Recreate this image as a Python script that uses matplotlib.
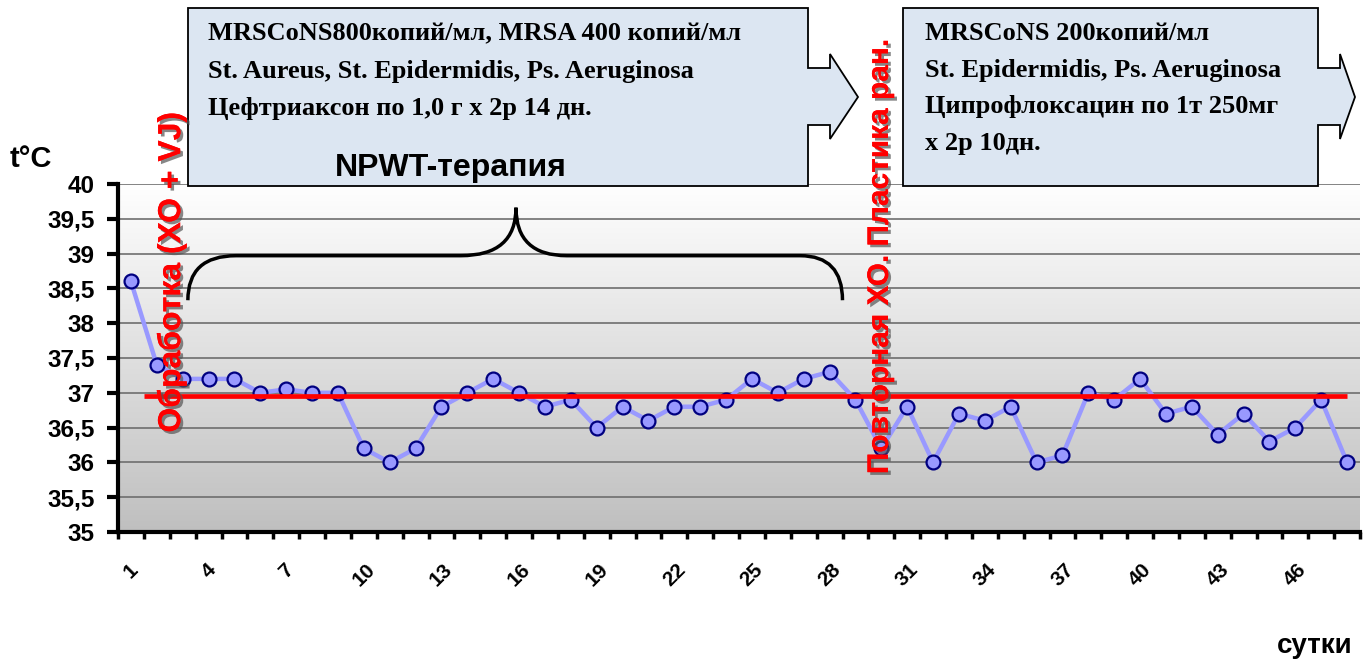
import numpy as np
import matplotlib
matplotlib.use("Agg")
import matplotlib.pyplot as plt
from matplotlib.patches import Polygon, PathPatch
from matplotlib.path import Path
import matplotlib.patheffects as pe

# data
days = list(range(1, 49))
temps = [38.6, 37.4, 37.2, 37.2, 37.2, 37.0, 37.05, 37.0, 37.0, 36.2,
         36.0, 36.2, 36.8, 37.0, 37.2, 37.0, 36.8, 36.9, 36.5, 36.8,
         36.6, 36.8, 36.8, 36.9, 37.2, 37.0, 37.2, 37.3, 36.9, 36.2,
         36.8, 36.0, 36.7, 36.6, 36.8, 36.0, 36.1, 37.0, 36.9, 37.2,
         36.7, 36.8, 36.4, 36.7, 36.3, 36.5, 36.9, 36.0]
norm_temp = 36.95
x_labels = list(range(1, 49, 3))
y_ticks = np.arange(35, 40.01, 0.5)

box1_lines = ["MRSCoNS800копий/мл, MRSA 400 копий/мл",
              "St. Aureus, St. Epidermidis, Ps. Aeruginosa",
              "Цефтриаксон по 1,0 г х 2р 14 дн."]
box2_lines = ["MRSCoNS 200копий/мл",
              "St. Epidermidis, Ps. Aeruginosa",
              "Ципрофлоксацин по 1т 250мг",
              "х 2р 10дн."]

W, H = 1371, 664
fig = plt.figure(figsize=(W / 100, H / 100), dpi=100)
plt.rcParams['font.family'] = ['Liberation Sans', 'DejaVu Sans']


def px(x, y):
    return (x / W, 1 - y / H)


ax = fig.add_axes([118 / W, (H - 532) / H, 1242 / W, 348 / H])
ax.set_xlim(0.5, 48.5)
ax.set_ylim(35, 40)

# background gradient
grad = np.linspace(0, 1, 256).reshape(-1, 1)
ax.imshow(grad, extent=(0.5, 48.5, 35, 40), aspect='auto', origin='upper',
          cmap=matplotlib.colors.LinearSegmentedColormap.from_list(
              'bg', ['#ffffff', '#bfbfbf']), zorder=0)

for v in y_ticks[1:]:
    ax.axhline(v, color='#6e6e6e', lw=1.2, zorder=1)

ax.plot(days, temps, color='#9999ff', lw=3.2, zorder=3,
        marker='o', markersize=10, markerfacecolor='#9999ff',
        markeredgecolor='#000080', markeredgewidth=1.6)
ax.hlines(norm_temp, 1.5, days[-1], color='#ff0000', lw=3.4, zorder=4)

for s in ['top', 'right']:
    ax.spines[s].set_visible(False)
ax.spines['left'].set_linewidth(3)
ax.spines['bottom'].set_linewidth(3)

ax.set_yticks(y_ticks)
ax.set_yticklabels([('%g' % v).replace('.', ',') for v in y_ticks],
                   fontsize=17.5, fontweight='bold')
ax.tick_params(axis='y', direction='out', length=8, width=3, pad=9)

ax.set_xticks(x_labels)
ax.set_xticklabels([str(v) for v in x_labels], rotation=45, fontsize=15,
                   fontweight='bold', ha='center', va='top')
ax.tick_params(axis='x', which='major', length=0, pad=20)
ax.set_xticks(np.arange(0.5, 48.6, 1), minor=True)
ax.tick_params(axis='x', which='minor', direction='out', length=5, width=2.5)

# curly brace over NPWT period
bx0, bx1, btip = 3.2, 28.5, 15.88
by0, byf, byt = 38.33, 38.97, 39.66
verts = [(bx0, by0), (bx0, byf), (5.06, byf), (13.75, byf),
         (btip, byf), (btip, byt),
         (btip, byf), (17.85, byf), (26.86, byf), (bx1, byf), (bx1, by0)]
codes = [Path.MOVETO, Path.CURVE3, Path.CURVE3, Path.LINETO,
         Path.CURVE3, Path.CURVE3,
         Path.CURVE3, Path.CURVE3, Path.LINETO, Path.CURVE3, Path.CURVE3]
ax.add_patch(PathPatch(Path(verts, codes), fill=False, lw=2.5,
                       color='black', zorder=5))


# arrow boxes
def arrow_box(x0, x1, tip):
    pts = [(x0, 8), (x1, 8), (x1, 68), (x1 + 22, 68), (x1 + 22, 54),
           (tip, 97), (x1 + 22, 139), (x1 + 22, 125), (x1, 125),
           (x1, 186), (x0, 186)]
    fig.patches.append(Polygon([px(*p) for p in pts], closed=True,
                               transform=fig.transFigure, facecolor='#dce6f2',
                               edgecolor='black', lw=1.3, zorder=2))


arrow_box(188, 808, 858)
arrow_box(903, 1318, 1355)

serif = ['Liberation Serif', 'DejaVu Serif']
for i, line in enumerate(box1_lines):
    fig.text(*px(208, 34 + i * 37.5), line, family=serif, fontweight='bold',
             fontsize=19, va='center', ha='left', zorder=3)
for i, line in enumerate(box2_lines):
    fig.text(*px(925, 34 + i * 36.5), line, family=serif, fontweight='bold',
             fontsize=19, va='center', ha='left', zorder=3)

fig.text(*px(451, 168), 'NPWT-терапия', fontsize=23, fontweight='bold',
         ha='center', va='center', zorder=3)

shadow = [pe.withSimplePatchShadow(offset=(2, -2), shadow_rgbFace='#555555',
                                   alpha=0.7), pe.Normal()]
fig.text(*px(172, 272), 'Обработка (ХО + VJ)', rotation=90, color='#ff0000',
         fontsize=23, fontweight='bold', ha='center', va='center',
         path_effects=shadow, zorder=4)
fig.text(*px(880, 256), 'Повторная ХО. Пластика ран.', rotation=90,
         color='#ff0000', fontsize=21.5, fontweight='bold', ha='center',
         va='center', path_effects=shadow, zorder=4)

fig.text(*px(10, 159), 't°C', fontsize=21, fontweight='bold',
         ha='left', va='center')
fig.text(*px(1352, 646), 'сутки', fontsize=20, fontweight='bold',
         ha='right', va='center')

fig.savefig('out.png', dpi=100)
